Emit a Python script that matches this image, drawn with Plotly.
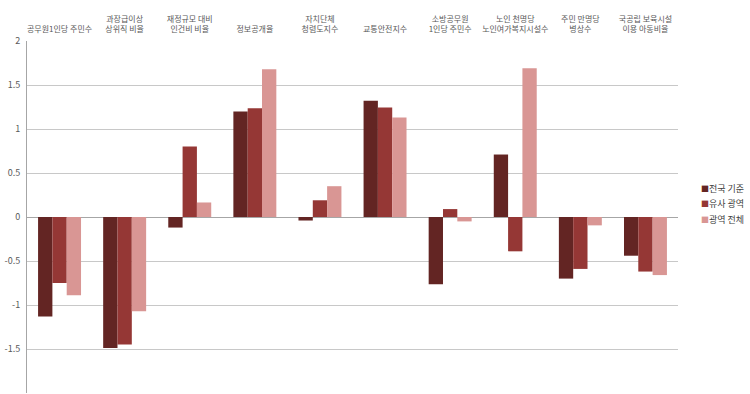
import plotly.graph_objects as go

categories = [
    "공무원1인당 주민수",
    "과장급이상<br>상위직 비율",
    "재정규모 대비<br>인건비 비율",
    "정보공개율",
    "자치단체<br>청렴도지수",
    "교통안전지수",
    "소방공무원<br>1인당 주민수",
    "노인 천명당<br>노인여가복지시설수",
    "주민 만명당<br>병상수",
    "국공립 보육시설<br>이용 아동비율",
]
series_names = ["전국 기준", "유사 광역", "광역 전체"]
national = [-1.13, -1.49, -0.12, 1.20, -0.04, 1.32, -0.765, 0.71, -0.70, -0.44]
similar = [-0.75, -1.45, 0.80, 1.235, 0.19, 1.245, 0.09, -0.39, -0.59, -0.62]
overall = [-0.89, -1.07, 0.165, 1.68, 0.35, 1.13, -0.05, 1.69, -0.095, -0.66]
colors = ["#632523", "#953735", "#D99694"]
y_ticks = [-2, -1.5, -1, -0.5, 0, 0.5, 1, 1.5, 2]

fig = go.Figure()
for name, vals, c in zip(series_names, [national, similar, overall], colors):
    fig.add_trace(go.Bar(x=categories, y=vals, name=name, marker_color=c,
                         marker_line_width=0, showlegend=False, hoverinfo="skip"))

font = "Noto Sans CJK KR, Malgun Gothic, sans-serif"

# legend drawn as text entries with coloured squares
for i, (name, c) in enumerate(zip(series_names, colors)):
    fig.add_annotation(
        xref="paper", yref="paper", x=1.032, y=0.58 - i * 0.043,
        xanchor="left", yanchor="middle", showarrow=False,
        text=f"<span style='color:{c};font-size:8px'>■</span>{name}",
        font=dict(family=font, size=9, color="#404040"),
    )

fig.update_layout(
    width=750, height=394,
    margin=dict(l=27, r=72, t=41, b=1, autoexpand=False),
    paper_bgcolor="white", plot_bgcolor="white",
    barmode="group", bargap=0.34, bargroupgap=0,
    font=dict(family=font, size=9, color="#595959"),
    showlegend=False,
)
fig.update_xaxes(side="top", showline=False, showgrid=False, ticks="",
                 automargin=False, ticklabelstandoff=6,
                 tickfont=dict(size=8, color="#595959"), fixedrange=True)
fig.update_yaxes(range=[-2, 2], tickvals=y_ticks,
                 ticktext=[str(v) if v != int(v) else str(int(v)) for v in y_ticks],
                 automargin=False, fixedrange=True,
                 showgrid=True, gridcolor="#C8C8C8", gridwidth=1,
                 zeroline=True, zerolinecolor="#A6A6A6", zerolinewidth=1,
                 showline=True, linecolor="#A6A6A6", linewidth=1,
                 ticks="", ticklabelstandoff=4, tickfont=dict(size=9, color="#595959"))

fig.write_html("out.html",
               config={"displayModeBar": False, "staticPlot": True},
               post_script="document.body.style.margin='0';document.body.style.overflow='hidden';")
